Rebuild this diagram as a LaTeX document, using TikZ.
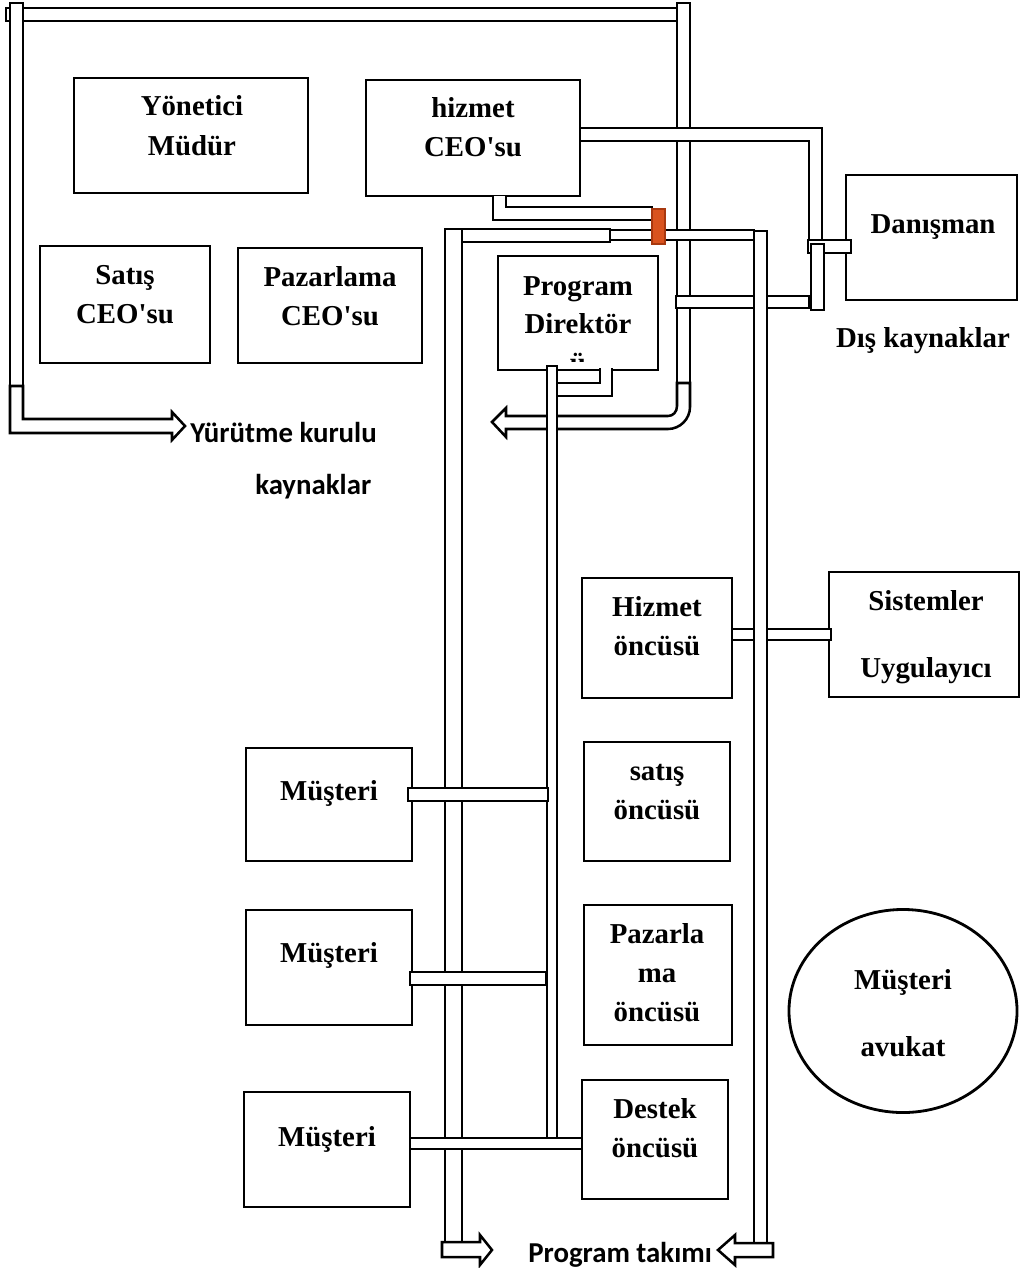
\documentclass[tikz,border=0pt]{standalone}
\usepackage{fontspec}
\setmainfont{Liberation Serif}
\newfontfamily\labelsans{Carlito}
\usetikzlibrary{fit,shapes.geometric}
\definecolor{valve}{HTML}{D9531E}
\definecolor{valveedge}{HTML}{A8380F}
\begin{document}
\begin{tikzpicture}[x=0.025cm,y=-0.025cm,
  box/.style={draw, line width=2pt, inner sep=0pt},
  pipe/.style={draw, fill=white, line width=1.8pt, line join=miter},
  txt/.style={font=\bfseries\fontsize{20.5}{24}\selectfont, inner sep=0pt, anchor=base},
  stxt/.style={font=\labelsans\bfseries\fontsize{20.5}{24}\selectfont, inner sep=0pt, anchor=base west}]

\fill[white] (0,0) rectangle (1020,1268);
\useasboundingbox (0,0) rectangle (1020,1268);

% ---------- boxes ----------
\node[box, fit={(74,78) (308,193)}]   (ym)  {};
\node[box, fit={(366,80) (580,196)}]  (hz)  {};
\node[box, fit={(40,246) (210,363)}]  (sat) {};
\node[box, fit={(238,248) (422,363)}] (paz) {};
\node[box, fit={(498,256) (658,370)}] (pd)  {};
\node[box, fit={(846,175) (1017,300)}] (dan) {};
\node[box, fit={(582,578) (732,698)}] (ho)  {};
\node[box, fit={(829,572) (1019,697)}] (sis) {};
\node[box, fit={(246,748) (412,861)}] (m1)  {};
\node[box, fit={(584,742) (730,861)}] (so)  {};
\node[box, fit={(246,910) (412,1025)}] (m2) {};
\node[box, fit={(584,905) (732,1045)}] (po) {};
\node[box, fit={(244,1092) (410,1207)}] (m3) {};
\node[box, fit={(582,1080) (728,1199)}] (des) {};
\node[box, ellipse, minimum width=5.7cm, minimum height=5.075cm] (av) at (903,1011) {};

% ---------- box texts ----------
\node[txt] (ym1) at (192,115) {Yönetici};
\node[txt] (ym2) at (192,155) {Müdür};
\node[txt] (hz1) at (473,117) {hizmet};
\node[txt] (hz2) at (473,156) {CEO\textquotesingle su};
\node[txt] (sat1) at (125,284) {Satış};
\node[txt] (sat2) at (125,323) {CEO\textquotesingle su};
\node[txt] (paz1) at (330,286) {Pazarlama};
\node[txt] (paz2) at (330,325) {CEO\textquotesingle su};
\node[txt] (pd1) at (578,295) {Program};
\node[txt] (pd2) at (578,333) {Direktör};
\begin{scope}
  \clip (500,258) rectangle (656,361);
  \node[txt] (pd3) at (578,372) {ü};
\end{scope}
\node[txt] (dan1) at (933,233) {Danışman};
\node[txt] (dis) at (923,347) {Dış kaynaklar};
\node[txt] (ho1) at (657,616) {Hizmet};
\node[txt] (ho2) at (657,655) {öncüsü};
\node[txt] (sis1) at (926,610) {Sistemler};
\node[txt] (sis2) at (926,677) {Uygulayıcı};
\node[txt] (m1t) at (329,800) {Müşteri};
\node[txt] (so1) at (657,780) {satış};
\node[txt] (so2) at (657,819) {öncüsü};
\node[txt] (m2t) at (329,962) {Müşteri};
\node[txt] (po1) at (657,943) {Pazarla};
\node[txt] (po2) at (657,982) {ma};
\node[txt] (po3) at (657,1021) {öncüsü};
\node[txt] (av1) at (903,989) {Müşteri};
\node[txt] (av2) at (903,1056) {avukat};
\node[txt] (m3t) at (327,1146) {Müşteri};
\node[txt] (des1) at (655,1118) {Destek};
\node[txt] (des2) at (655,1157) {öncüsü};

% ---------- executive board frame ----------
\draw[pipe] (6,8) rectangle (677,21);
\draw[pipe] (10,3) rectangle (23,386);
\draw[pipe] (10,386) -- (23,386) -- (23,419) -- (172,419) -- (172,412)
  -- (185,426) -- (172,440) -- (172,433) -- (10,433) -- cycle;
\draw[pipe] (677,3) rectangle (690,383);
\draw[pipe] (677,383) -- (690,383) -- (690,407)
  .. controls (690,419) and (680,429) .. (668,429) -- (506,429) -- (506,437)
  -- (492,422) -- (506,408) -- (506,416) -- (668,416)
  .. controls (673,416) and (677,412) .. (677,406) -- cycle;

% ---------- link to the external resources ----------
\draw[pipe] (676,296) rectangle (809,308);
\draw[pipe] (580,128) -- (822,128) -- (822,240) -- (809,240) -- (809,141) -- (580,141) -- cycle;
\draw[pipe] (808,240) rectangle (851,253);
\draw[pipe] (811,244) rectangle (824,310);

% ---------- program team frame ----------
\draw[pipe] (445,229) rectangle (462,1242);
\draw[pipe] (462,229) rectangle (610,242);
\draw[pipe] (610,230) rectangle (754,240);
\draw[pipe] (493,196) -- (493,220) -- (652,220) -- (652,207) -- (506,207) -- (506,196);
\draw[line width=1.2pt, draw=valveedge, fill=valve] (652,209) rectangle (665,244);

\draw[pipe] (732,629) rectangle (831,640);
\draw[pipe] (754,231) rectangle (767,1243);

\draw[pipe] (600,368) -- (600,383) -- (557,383) -- (557,396) -- (612,396) -- (612,368);
\draw[pipe] (547,366) rectangle (557,1138);

\draw[pipe] (408,788) rectangle (548,801);
\draw[pipe] (410,972) rectangle (546,985);
\draw[pipe] (410,1138) rectangle (582,1149);

% ---------- output arrows ----------
\draw[pipe] (442,1242) -- (480,1242) -- (480,1235) -- (492,1250) -- (480,1265)
  -- (480,1257) -- (442,1257) -- cycle;
\draw[pipe] (773,1243) -- (735,1243) -- (735,1235) -- (718,1250) -- (735,1265)
  -- (735,1257) -- (773,1257) -- cycle;

% ---------- free labels ----------
\node[stxt] (yk1) at (190,442) {Yürütme kurulu};
\node[stxt] (yk2) at (255,494) {kaynaklar};
\node[stxt] (pt)  at (528,1262) {Program takımı};
\end{tikzpicture}
\end{document}
